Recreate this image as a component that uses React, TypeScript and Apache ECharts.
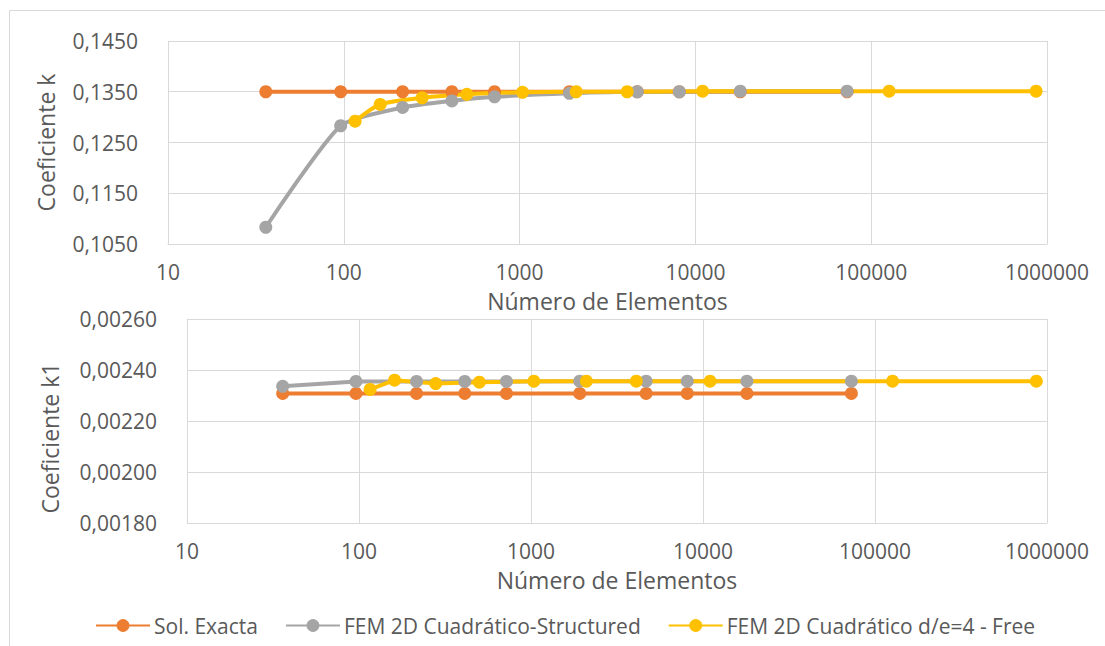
import React, { useEffect, useRef } from "react";
import * as echarts from "echarts";

// ---- data ----
const seriesNames = [
  "Sol. Exacta",
  "FEM 2D Cuadrático-Structured",
  "FEM 2D Cuadrático d/e=4 - Free",
];

// number of elements
const structuredN = [36, 96, 216, 412, 720, 1920, 4670, 8100, 18000, 72900];
const freeN = [116, 161, 279, 501, 1039, 2099, 4093, 10990, 126500, 867000];

// Coeficiente k
const exactK = [0.135, 0.135, 0.135, 0.135, 0.135, 0.135, 0.135, 0.135, 0.135, 0.135];
const structuredK = [0.1083, 0.1283, 0.1319, 0.1332, 0.134, 0.1347, 0.135, 0.135, 0.1351, 0.1351];
const freeK = [0.1292, 0.1325, 0.1338, 0.1345, 0.1349, 0.135, 0.135, 0.1351, 0.1351, 0.1351];

// Coeficiente k1
const exactK1 = [0.002308, 0.002308, 0.002308, 0.002308, 0.002308, 0.002308, 0.002308, 0.002308, 0.002308, 0.002308];
const structuredK1 = [0.002336, 0.002355, 0.002355, 0.002355, 0.002355, 0.002356, 0.002356, 0.002356, 0.002356, 0.002356];
const freeK1 = [0.002324, 0.00236, 0.002347, 0.002352, 0.002356, 0.002356, 0.002356, 0.002356, 0.002356, 0.002356];

// axis ticks
const xTicks = [10, 100, 1000, 10000, 100000, 1000000];
const kTicks = [0.105, 0.115, 0.125, 0.135, 0.145];
const k1Ticks = [0.0018, 0.002, 0.0022, 0.0024, 0.0026];

const colors = ["#ED7D31", "#A5A5A5", "#FFC000"];
const FONT = "Open Sans";
const TEXT = "#595959";
const GRIDC = "#D9D9D9";

const zip = (xs: number[], ys: number[]) => xs.map((x, i) => [x, ys[i]]);

export default function App() {
  const ref = useRef<HTMLDivElement>(null);
  useEffect(() => {
    if (!ref.current) return;
    const chart = echarts.init(ref.current, undefined, { renderer: "svg" });

    const xAxisBase = (gridIndex: number, nameGap: number) => ({
      type: "log" as const,
      logBase: 10,
      gridIndex,
      min: xTicks[0],
      max: xTicks[xTicks.length - 1],
      name: "Número de Elementos",
      nameLocation: "middle" as const,
      nameGap,
      nameTextStyle: { color: TEXT, fontFamily: FONT, fontSize: 23, lineHeight: 21 },
      axisLine: { show: true, lineStyle: { color: GRIDC, width: 1 } },
      axisTick: { show: false },
      axisLabel: {
        color: TEXT,
        fontFamily: FONT,
        fontSize: 21,
        lineHeight: 20,
        margin: 18,
        formatter: (v: number) => String(Math.round(v)),
      },
      splitLine: { show: true, lineStyle: { color: GRIDC, width: 1 } },
    });

    const yAxisBase = (
      gridIndex: number,
      ticks: number[],
      digits: number,
      name: string,
      nameGap: number,
      namePadding: number[]
    ) => ({
      type: "value" as const,
      gridIndex,
      min: ticks[0],
      max: ticks[ticks.length - 1],
      interval: Number((ticks[1] - ticks[0]).toFixed(8)),
      name,
      nameLocation: "middle" as const,
      nameGap,
      nameTextStyle: { color: TEXT, fontFamily: FONT, fontSize: 23, padding: namePadding },
      axisLine: { show: false },
      axisTick: { show: false },
      axisLabel: {
        color: TEXT,
        fontFamily: FONT,
        fontSize: 21,
        margin: 30,
        formatter: (v: number) => v.toFixed(digits).replace(".", ","),
      },
      splitLine: { show: true, lineStyle: { color: GRIDC, width: 1 } },
    });

    const lineSeries = (
      name: string,
      color: string,
      xs: number[],
      ys: number[],
      idx: number,
      smooth: number | boolean
    ) => ({
      type: "line" as const,
      name,
      xAxisIndex: idx,
      yAxisIndex: idx,
      data: zip(xs, ys),
      smooth,
      symbol: "circle",
      symbolSize: 13,
      showSymbol: true,
      itemStyle: { color, borderWidth: 0 },
      lineStyle: { color, width: 4 },
      emphasis: { disabled: true },
    });

    chart.setOption({
      animation: false,
      textStyle: { fontFamily: FONT },
      graphic: [
        {
          type: "rect",
          shape: { x: 9.5, y: 10.5, width: 1200, height: 700 },
          style: { fill: "none", stroke: GRIDC, lineWidth: 1 },
          silent: true,
        },
      ],
      legend: {
        data: seriesNames,
        left: 90,
        top: 610,
        itemWidth: 54,
        itemHeight: 16,
        itemGap: 27,
        selectedMode: false,
        textStyle: { color: TEXT, fontFamily: FONT, fontSize: 21, padding: [0, 0, 0, -1] },
      },
      grid: [
        { left: 168, top: 41, width: 879, height: 203 },
        { left: 187, top: 319, width: 860, height: 204 },
      ],
      xAxis: [xAxisBase(0, 46), xAxisBase(1, 46)],
      yAxis: [
        yAxisBase(0, kTicks, 4, "Coeficiente k", 111, [0, 0, 0, 0]),
        yAxisBase(1, k1Ticks, 5, "Coeficiente k1", 126, [0, 34, 0, 0]),
      ],
      series: [
        lineSeries(seriesNames[0], colors[0], structuredN, exactK, 0, false),
        lineSeries(seriesNames[1], colors[1], structuredN, structuredK, 0, 0.2),
        lineSeries(seriesNames[2], colors[2], freeN, freeK, 0, 0.25),
        lineSeries(seriesNames[0], colors[0], structuredN, exactK1, 1, false),
        lineSeries(seriesNames[1], colors[1], structuredN, structuredK1, 1, false),
        lineSeries(seriesNames[2], colors[2], freeN, freeK1, 1, false),
      ],
    });
    return () => chart.dispose();
  }, []);
  return (
    <div
      ref={ref}
      style={{ position: "absolute", left: 0, top: 0, width: 1105, height: 646, background: "#fff" }}
    />
  );
}
